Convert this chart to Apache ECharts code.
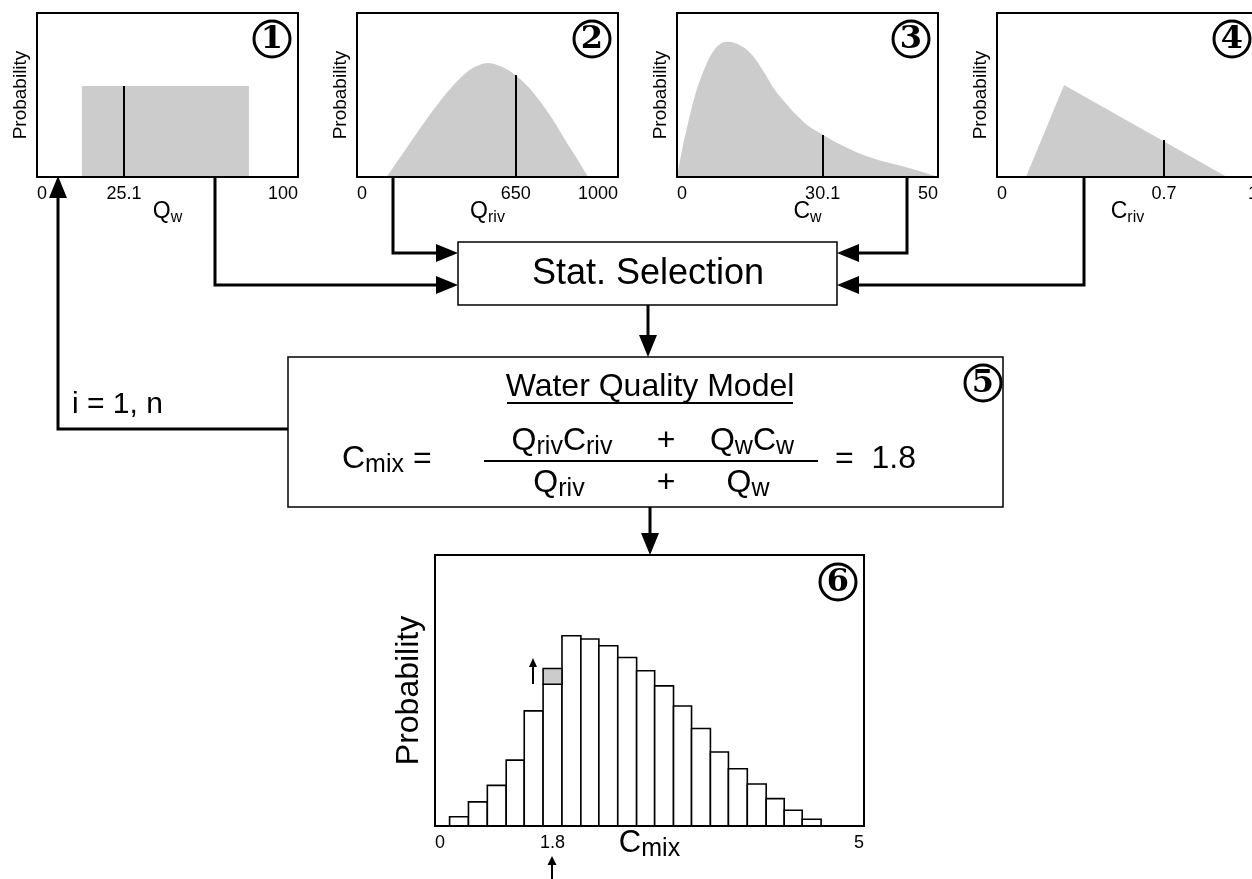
<!DOCTYPE html>
<html><head><meta charset="utf-8">
<script src="https://cdn.jsdelivr.net/npm/echarts@6/dist/echarts.min.js"></script>
<style>html,body{margin:0;padding:0;background:#fff}#c{width:1252px;height:879px}</style>
</head><body><div id="c"></div>
<script>
// ---------------- data ----------------
// input distributions (x in each variable's units, y = relative probability 0-100)
const qwDist   = [[17.2,0],[17.2,55.5],[81.2,55.5],[81.2,0]];
const qrivDist = [[114,0],[150,8.5],[200,20],[250,31.5],[300,42.5],[350,52.5],[400,61],[450,67],[502,69.5],
                  [550,67.5],[600,63],[650,56],[700,46.5],[750,35],[800,22],[850,9.5],[885,0]];
const cwDist   = [[0,0],[1.25,21],[2.5,38],[3.75,53],[5,64],[6.25,73],[7.5,79],[8.75,82],[10,82.5],[11.25,81.5],
                  [12.5,79.5],[13.75,76.5],[15,72],[16.25,66],[17.5,59.5],[18.75,53],[20,48],[21.25,43.5],[22.5,39],
                  [25,31.5],[27.5,26.5],[30,22],[32.5,18],[35,14.3],[37.5,11.5],[40,9.2],[42.5,7.2],[45,5],[47.5,2.6],[50,0]];
const crivDist = [[0.111,0],[0.257,56.1],[0.881,0]];
const axisMax  = [100, 1000, 50, 1];
// sampled values: where the sample line is drawn (figure not to scale), its height and its printed value
const sampleAt      = [33.3, 608, 27.9, 0.64];
const sampleDensity = [55.5, 62.2, 25.6, 22.6];
const sampleText    = ['25.1', '650', '30.1', '0.7'];
// output histogram of C_mix
const binEdges = [0.17,0.39,0.61,0.83,1.04,1.26,1.48,1.70,1.91,2.13,2.35,2.56,2.78,2.99,3.21,3.42,3.64,3.86,4.07,4.28,4.50];
const binProb  = [3.4,8.9,15.0,24.3,42.5,52.3,70.2,69.0,66.5,62.2,57.3,51.7,44.3,36.0,27.3,21.1,15.5,10.1,5.8,2.5];
const newSampleBin  = 5;
const newSampleProb = 5.8;
const cmixText = '1.8';
const cmixMax = 5;

// ---------------- chart ----------------
const FONT = '"Liberation Sans", Arial, Helvetica, sans-serif';
const varNames = [['Q','w'],['Q','riv'],['C','w'],['C','riv']];
const dists = [qwDist, qrivDist, cwDist, crivDist];
const smoothing = [false, 0.3, 0.3, false];
const panelLeft = [37, 357, 677, 997];

function nameRich(mainSize, subSize, pad) {
  return {
    m: {fontSize: mainSize, fontFamily: FONT, color: '#000', lineHeight: mainSize + 8},
    s: {fontSize: subSize, fontFamily: FONT, color: '#000', lineHeight: mainSize + 8, padding: [pad, 0, 0, 0]}
  };
}

const grids = [], xAxes = [], yAxes = [], series = [];
for (let i = 0; i < 4; i++) {
  grids.push({left: panelLeft[i], top: 13, width: 261, height: 164, show: true,
    borderColor: '#000', borderWidth: 2, backgroundColor: 'transparent', outerBoundsMode: 'none', containLabel: false});
  const lab = [0, sampleAt[i], axisMax[i]];
  xAxes.push({gridIndex: i, type: 'value', min: 0, max: axisMax[i], z: 10,
    axisLine: {show: true, lineStyle: {color: '#000', width: 2}},
    axisTick: {show: false}, splitLine: {show: false},
    axisLabel: {customValues: lab, hideOverlap: false, fontSize: 18, color: '#000', fontFamily: FONT, margin: 8,
      alignMinLabel: 'left', alignMaxLabel: 'right',
      formatter: v => v === 0 ? '0' : (v === axisMax[i] ? String(axisMax[i]) : sampleText[i])},
    name: '{m|' + varNames[i][0] + '}{s|' + varNames[i][1] + '}', nameLocation: 'middle', nameGap: 19,
    nameMoveOverlap: false,
    nameTextStyle: {rich: nameRich(23, 16, 12)}});
  yAxes.push({gridIndex: i, type: 'value', min: 0, max: 100, z: 10,
    axisLine: {show: true, lineStyle: {color: '#000', width: 2}},
    axisTick: {show: false}, axisLabel: {show: false}, splitLine: {show: false},
    name: 'Probability', nameLocation: 'middle', nameGap: 7, nameMoveOverlap: false,
    nameTextStyle: {fontSize: 19, color: '#000', fontFamily: FONT}});
  series.push({type: 'line', xAxisIndex: i, yAxisIndex: i, data: dists[i], smooth: smoothing[i],
    symbol: 'none', lineStyle: {width: 0, opacity: 0}, areaStyle: {color: '#cccccc', opacity: 1},
    animation: false, silent: true,
    markLine: {silent: true, symbol: ['none', 'none'], animation: false, label: {show: false},
      lineStyle: {color: '#000', width: 2, type: 'solid'},
      data: [[{coord: [sampleAt[i], 0]}, {coord: [sampleAt[i], sampleDensity[i]]}]]}});
}

// histogram panel
const binCenter = (binEdges[newSampleBin] + binEdges[newSampleBin + 1]) / 2;
grids.push({left: 435, top: 555, width: 429, height: 271, show: true, borderColor: '#000', borderWidth: 2,
  backgroundColor: 'transparent', outerBoundsMode: 'none', containLabel: false});
xAxes.push({gridIndex: 4, type: 'value', min: 0, max: cmixMax, z: 10,
  axisLine: {show: true, lineStyle: {color: '#000', width: 2}},
  axisTick: {show: false}, splitLine: {show: false},
  axisLabel: {customValues: [0, binCenter, cmixMax], hideOverlap: false, fontSize: 18, color: '#000', fontFamily: FONT, margin: 8,
    alignMinLabel: 'left', alignMaxLabel: 'right',
    formatter: v => v === 0 ? '0' : (v === cmixMax ? String(cmixMax) : cmixText)},
  name: '{m|C}{s|mix}', nameLocation: 'middle', nameGap: -2, nameMoveOverlap: false,
  nameTextStyle: {rich: nameRich(31, 25, 12)}});
yAxes.push({gridIndex: 4, type: 'value', min: 0, max: 100, z: 10,
  axisLine: {show: true, lineStyle: {color: '#000', width: 2}},
  axisTick: {show: false}, axisLabel: {show: false}, splitLine: {show: false},
  name: 'Probability', nameLocation: 'middle', nameGap: 10, nameMoveOverlap: false,
  nameTextStyle: {fontSize: 32, color: '#000', fontFamily: FONT}});

function binRect(fill) {
  return function (params, api) {
    const p0 = api.coord([api.value(0), api.value(2)]);
    const p1 = api.coord([api.value(1), api.value(3)]);
    return {type: 'rect', shape: {x: p0[0], y: p1[1], width: p1[0] - p0[0], height: p0[1] - p1[1]},
      style: {fill: fill, stroke: '#000', lineWidth: 1.6}};
  };
}
series.push({type: 'custom', xAxisIndex: 4, yAxisIndex: 4, animation: false, silent: true,
  data: binProb.map((p, i) => [binEdges[i], binEdges[i + 1], 0, p]),
  encode: {x: [0, 1], y: [2, 3]}, renderItem: binRect('#ffffff')});
series.push({type: 'custom', xAxisIndex: 4, yAxisIndex: 4, animation: false, silent: true,
  data: [[binEdges[newSampleBin], binEdges[newSampleBin + 1], binProb[newSampleBin], binProb[newSampleBin] + newSampleProb]],
  encode: {x: [0, 1], y: [2, 3]}, renderItem: binRect('#cccccc')});

// ---------------- flow-chart annotations ----------------
const G = [];
function line(points, w) {
  G.push({type: 'polyline', z: 100, shape: {points: points}, style: {stroke: '#000', lineWidth: w || 3, fill: null}});
}
function head(tx, ty, dir, len, hw) {
  len = len || 22; hw = hw || 9;
  let pts;
  if (dir === 'right') pts = [[tx, ty], [tx - len, ty - hw], [tx - len, ty + hw]];
  if (dir === 'left')  pts = [[tx, ty], [tx + len, ty - hw], [tx + len, ty + hw]];
  if (dir === 'up')    pts = [[tx, ty], [tx - hw, ty + len], [tx + hw, ty + len]];
  if (dir === 'down')  pts = [[tx, ty], [tx - hw, ty - len], [tx + hw, ty - len]];
  G.push({type: 'polygon', z: 101, shape: {points: pts}, style: {fill: '#000'}});
}
function text(t, x, y, size, align, rich, extra) {
  const st = Object.assign({text: t, x: x, y: y, fill: '#000', fontSize: size, fontFamily: FONT,
    align: align || 'center', verticalAlign: 'middle'}, extra || {});
  if (rich) st.rich = rich;
  G.push({type: 'text', z: 102, style: st});
}
function circled(cx, cy, n) {
  G.push({type: 'circle', z: 103, shape: {cx: cx, cy: cy, r: 18}, style: {fill: '#fff', stroke: '#000', lineWidth: 3}});
  G.push({type: 'text', z: 104, style: {text: String(n), x: cx, y: cy + 1, fill: '#000', fontSize: 32,
    fontWeight: 'bold', fontFamily: '"DejaVu Serif", serif', align: 'center', verticalAlign: 'middle'}});
}

// boxes
G.push({type: 'rect', z: 90, shape: {x: 458, y: 242, width: 379, height: 63}, style: {fill: '#fff', stroke: '#000', lineWidth: 1.5}});
G.push({type: 'rect', z: 90, shape: {x: 288, y: 357, width: 715, height: 150}, style: {fill: '#fff', stroke: '#000', lineWidth: 1.5}});
text('Stat. Selection', 648, 274, 36);

// arrows into Stat. Selection
line([[215, 177], [215, 285], [437, 285]]); head(458, 285, 'right');
line([[393, 177], [393, 253], [437, 253]]); head(458, 253, 'right');
line([[907, 177], [907, 253], [858, 253]]); head(837, 253, 'left');
line([[1084, 177], [1084, 285], [858, 285]]); head(837, 285, 'left');
// Stat -> model, model -> histogram
line([[648, 305], [648, 336]]); head(648, 357, 'down');
line([[650, 507], [650, 534]]); head(650, 555, 'down');
// loop back
line([[288, 429], [58, 429], [58, 196]]); head(58, 176, 'up');
text('i = 1, n', 72, 405, 30, 'left');

// model text
text('Water Quality Model', 650, 387, 32);
G.push({type: 'line', z: 102, shape: {x1: 507, y1: 403, x2: 793, y2: 403}, style: {stroke: '#000', lineWidth: 2}});
const fr = {
  m: {fontSize: 32, fontFamily: FONT, fill: '#000', color: '#000', lineHeight: 40},
  s: {fontSize: 25, fontFamily: FONT, fill: '#000', color: '#000', lineHeight: 40, padding: [13, 0, 0, 0]}
};
text('{m|C}{s|mix}{m| =}', 342, 459, 32, 'left', fr);
text('{m|Q}{s|riv}{m|C}{s|riv}', 562, 441, 32, 'center', fr);
text('+', 666, 441, 32);
text('{m|Q}{s|w}{m|C}{s|w}', 752, 441, 32, 'center', fr);
G.push({type: 'line', z: 102, shape: {x1: 484, y1: 461, x2: 818, y2: 461}, style: {stroke: '#000', lineWidth: 2}});
text('{m|Q}{s|riv}', 559, 483, 32, 'center', fr);
text('+', 666, 483, 32);
text('{m|Q}{s|w}', 748, 483, 32, 'center', fr);
text('=  ' + cmixText, 835, 459, 32, 'left');

// small arrows in histogram
line([[533, 684], [533, 666]], 2); head(533, 658, 'up', 9, 4);
line([[552, 879], [552, 864]], 2); head(552, 856, 'up', 9, 4.5);

// circled step numbers
circled(272, 39, 1);
circled(592, 39, 2);
circled(911, 39, 3);
circled(1232, 39, 4);
circled(983, 383, 5);
circled(838, 582, 6);

const chart = echarts.init(document.getElementById('c'), null, {renderer: 'canvas'});
chart.setOption({
  animation: false,
  backgroundColor: '#ffffff',
  grid: grids, xAxis: xAxes, yAxis: yAxes, series: series,
  graphic: {elements: G}
});
</script></body></html>
